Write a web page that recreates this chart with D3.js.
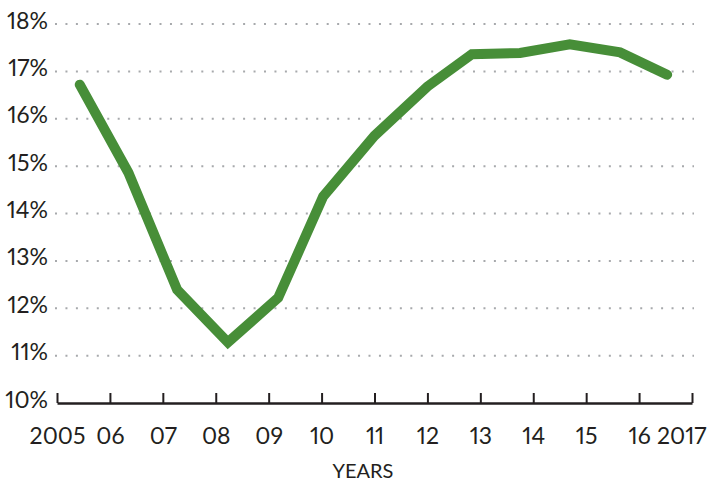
<!DOCTYPE html>
<html lang="en">
<head>
  <meta charset="UTF-8">
  <title>Years line chart</title>
  <style>
    body { margin: 0; background: #fff; }
    text { font-family: Lato, "Open Sans", sans-serif; fill: #231f20; font-variant-numeric: proportional-nums; font-feature-settings: "pnum" 1; }
  </style>
</head>
<body>
  <script src="https://cdn.jsdelivr.net/npm/d3@7/dist/d3.min.js"></script>
  <script>
    // data (x = position on the year axis)
    let years = [2005, 2006, 2007, 2008, 2009, 2010, 2011, 2012, 2013, 2014, 2015, 2016, 2017];
    let yearLabels = ['2005', '06', '07', '08', '09', '10', '11', '12', '13', '14', '15', '16', '2017'];
    let pointYears = [2005.43, 2006.35, 2007.27, 2008.23, 2009.18, 2010.03, 2011.0, 2012.0, 2012.84, 2013.75, 2014.69, 2015.64, 2016.53];
    let shares = [16.72, 14.86, 12.39, 11.28, 12.22, 14.36, 15.64, 16.68, 17.36, 17.39, 17.57, 17.4, 16.93];
    let pctTicks = [10, 11, 12, 13, 14, 15, 16, 17, 18];

    let width = 710;
    let height = 481;
    let svg = d3.select('body')
                .append('svg')
                .attr('width', width)
                .attr('height', height);

    let x = d3.scaleLinear()
              .domain([2005, 2017])
              .range([57, 692]);
    let y = d3.scaleLinear()
              .domain([10, 18])
              .range([403, 24]);

    // dotted grid lines
    svg.append('g')
       .selectAll('line')
       .data(pctTicks.slice(1))
       .enter()
       .append('line')
       .attr('x1', 55)
       .attr('x2', 694)
       .attr('y1', d => y(d))
       .attr('y2', d => y(d))
       .attr('stroke', '#a7a9ac')
       .attr('stroke-width', 2)
       .attr('stroke-dasharray', '2,8.45');

    // y labels
    let yAxis = d3.axisLeft(y)
                  .tickValues(pctTicks)
                  .tickSize(0)
                  .tickPadding(0)
                  .tickFormat(d => d + '%');
    let gy = svg.append('g')
                .attr('transform', 'translate(48, 0)')
                .call(yAxis);
    gy.select('.domain').remove();
    gy.selectAll('text')
      .attr('dy', 4)
      .attr('x', 0)
      .attr('font-size', 23)
      .attr('font-family', 'Lato, sans-serif')
      .attr('fill', '#231f20');

    // x axis with ticks pointing up
    let xAxis = d3.axisBottom(x)
                  .tickValues(years)
                  .tickSizeInner(-10)
                  .tickSizeOuter(0)
                  .tickFormat((d, i) => yearLabels[i]);
    let gx = svg.append('g')
                .attr('transform', 'translate(0, 403)')
                .call(xAxis);
    gx.select('.domain')
      .attr('stroke', '#231f20')
      .attr('stroke-width', 2.5);
    gx.selectAll('.tick line')
      .attr('stroke', '#231f20')
      .attr('stroke-width', 2);
    gx.selectAll('text')
      .attr('y', 41)
      .attr('dy', 0)
      .attr('font-size', 23)
      .attr('font-family', 'Lato, sans-serif')
      .attr('fill', '#231f20');
    gx.selectAll('.tick')
      .filter(d => d === 2017)
      .select('text')
      .attr('text-anchor', 'end')
      .attr('x', 14);

    svg.append('text')
       .attr('x', 363)
       .attr('y', 478)
       .attr('text-anchor', 'middle')
       .attr('font-size', 20)
       .text('YEARS');

    // the line
    let line = d3.line()
                 .x((d, i) => x(pointYears[i]))
                 .y(d => y(d));
    svg.append('path')
       .datum(shares)
       .attr('d', line)
       .attr('fill', 'none')
       .attr('stroke', '#478e38')
       .attr('stroke-width', 10)
       .attr('stroke-linecap', 'round')
       .attr('stroke-linejoin', 'miter');
  </script>
</body>
</html>
